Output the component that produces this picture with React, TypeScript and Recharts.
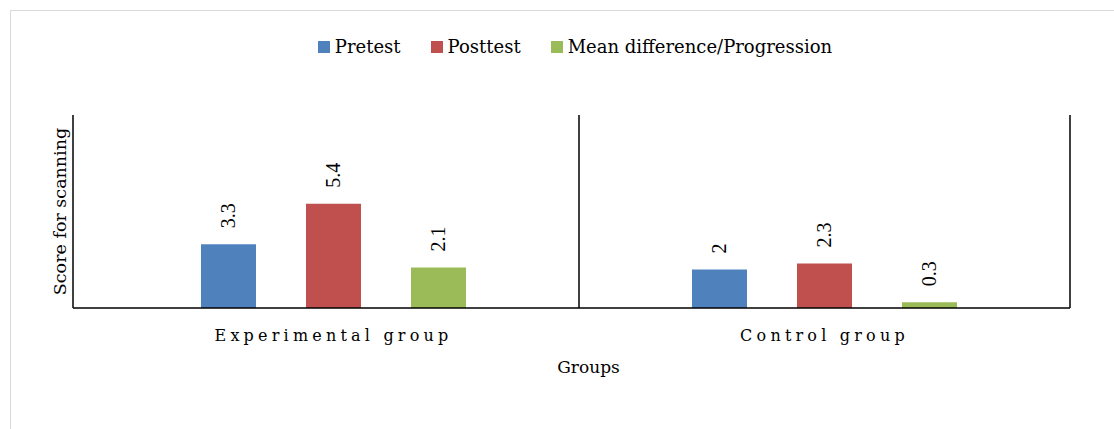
import { BarChart, Bar, XAxis, YAxis, CartesianGrid, Legend, LabelList } from 'recharts';

const groups = ['Experimental group', 'Control group'];
const pretest = [3.3, 2];
const posttest = [5.4, 2.3];
const progression = [2.1, 0.3];

const SERIES = [
  { key: 'pretest', label: 'Pretest', color: '#4F81BD' },
  { key: 'posttest', label: 'Posttest', color: '#C0504D' },
  { key: 'progression', label: 'Mean difference/Progression', color: '#9BBB59' },
];

const data = groups.map((group, i) => ({
  group,
  pretest: pretest[i],
  posttest: posttest[i],
  progression: progression[i],
}));

const W = 1114;
const H = 429;
const PAD_LEFT = 15;
const SERIF = '"DejaVu Serif", serif';

const RotatedLabel = (props: any) => {
  const { x, y, width, value } = props;
  const cx = x + width / 2;
  const ty = y - 16;
  return (
    <text
      x={cx}
      y={ty}
      transform={`rotate(-90, ${cx}, ${ty})`}
      textAnchor="start"
      dominantBaseline="central"
      style={{ fontFamily: '"Liberation Serif", "Times New Roman", serif', fontSize: 20, fill: '#000' }}
    >
      {value}
    </text>
  );
};

const LegendContent = (props: any) => {
  const items = [...(props.payload || [])].sort(
    (a: any, b: any) =>
      SERIES.findIndex((s) => s.label === a.value) - SERIES.findIndex((s) => s.label === b.value)
  );
  return (
    <div
      style={{
        display: 'flex',
        justifyContent: 'center',
        gap: 30,
        paddingLeft: 36,
        fontFamily: SERIF,
        fontSize: 18,
        color: '#000',
      }}
    >
      {items.map((it: any) => (
        <div key={it.value} style={{ display: 'flex', alignItems: 'center' }}>
          <span style={{ width: 12, height: 12, background: it.color, marginRight: 5, display: 'inline-block' }} />
          {it.value}
        </div>
      ))}
    </div>
  );
};

export default function App() {
  return (
    <div style={{ position: 'absolute', left: 0, top: 0, width: W, height: H, overflow: 'hidden', background: '#fff' }}>
      <div
        style={{
          position: 'absolute',
          left: 10,
          top: 10,
          width: 1200,
          height: 500,
          border: '1px solid #d9d9d9',
        }}
      />
      <div style={{ position: 'absolute', left: 0, top: 0 }}>
        <BarChart
          width={W}
          height={H}
          data={data}
          margin={{ top: 115, right: 44, bottom: 51, left: 43 }}
          barSize={55}
          barGap={50}
        >
          <CartesianGrid
            horizontal={false}
            stroke="#000"
            strokeWidth={1.5}
            verticalCoordinatesGenerator={({ offset }: any) => [
              (offset.left + PAD_LEFT + offset.left + offset.width) / 2,
              offset.left + offset.width,
            ]}
          />
          <XAxis
            dataKey="group"
            padding={{ left: PAD_LEFT, right: 0 }}
            axisLine={{ stroke: '#000', strokeWidth: 1.5 }}
            tickLine={false}
            tickSize={0}
            tickMargin={22}
            height={70}
            tick={{ fontFamily: SERIF, fontSize: 16, fill: '#000', letterSpacing: 4.2 }}
            label={{
              value: 'Groups',
              position: 'insideBottom',
              offset: 5,
              dx: 17,
              style: { fontFamily: SERIF, fontSize: 17, fill: '#000' },
            }}
          />
          <YAxis
            width={30}
            domain={[0, 10]}
            tick={false}
            tickLine={false}
            axisLine={{ stroke: '#000', strokeWidth: 1.5 }}
            label={{
              value: 'Score for scanning',
              angle: -90,
              position: 'insideLeft',
              offset: 17,
              style: { textAnchor: 'middle', fontFamily: SERIF, fontSize: 17.5, fill: '#000' },
            }}
          />
          <Legend
            verticalAlign="middle"
            align="center"
            layout="horizontal"
            wrapperStyle={{ top: 36, left: 0, width: W }}
            content={LegendContent}
          />
          {SERIES.map((s) => (
            <Bar key={s.key} dataKey={s.key} name={s.label} fill={s.color} isAnimationActive={false}>
              <LabelList dataKey={s.key} content={RotatedLabel} />
            </Bar>
          ))}
        </BarChart>
      </div>
    </div>
  );
}
